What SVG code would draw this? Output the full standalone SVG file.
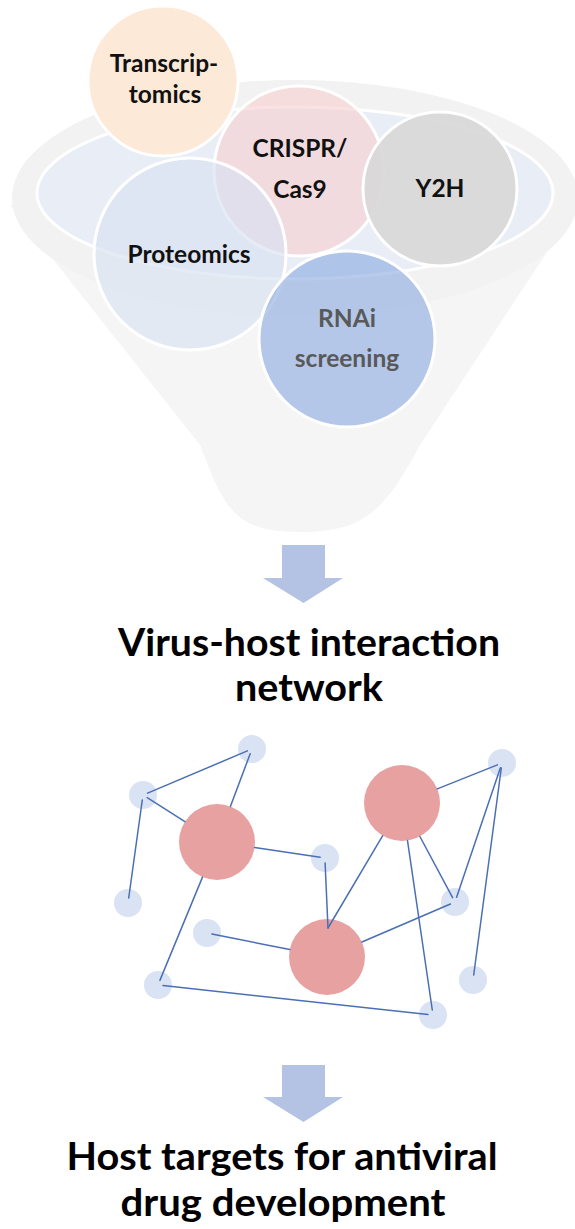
<svg xmlns="http://www.w3.org/2000/svg" width="575" height="1229" viewBox="0 0 575 1229">
<defs>
<style>
.lbl{font-family:Lato,"Liberation Sans",sans-serif;font-weight:700;font-size:24.5px;fill:#111;text-anchor:middle}
.ttl{font-family:Lato,"Liberation Sans",sans-serif;font-weight:700;font-size:38px;fill:#000;text-anchor:middle}
.m{stroke:#fff;stroke-width:3}
.sn{fill:#d9e3f4}
.rn{fill:#e8a1a1}
.edge{stroke:#4a6fb5;stroke-width:1.5;fill:none;stroke-linecap:round}
.arrow{fill:#b4c3e3}
</style>
</defs>
<rect width="575" height="1229" fill="#fff"/>
<g id="funnel">
<path d="M 10,205 L 200,445 C 225,510 235,532 300,532 C 365,532 385,510 420,445 L 578,205 Z" fill="#f5f5f5"/>
<ellipse cx="295" cy="198" rx="283" ry="118" fill="#f2f2f2"/>
<ellipse cx="295" cy="193" rx="258" ry="86" fill="#e8edf6" stroke="#fff" stroke-width="3"/>
</g>
<g id="node-transcriptomics">
<circle cx="163" cy="81" r="75" fill="#fde9d7" class="m"/>
<text class="lbl" x="164" y="72">Transcrip-</text>
<text class="lbl" x="165" y="103">tomics</text>
</g>
<g id="node-crispr">
<circle cx="299" cy="171" r="85" fill="#f7cfcf" fill-opacity="0.6" class="m"/>
<text class="lbl" x="300" y="157">CRISPR/</text>
<text class="lbl" x="300" y="198">Cas9</text>
</g>
<g id="node-y2h">
<circle cx="440" cy="189" r="77" fill="#d8d8d8" fill-opacity="0.92" class="m"/>
<text class="lbl" x="440" y="197">Y2H</text>
</g>
<g id="node-proteomics">
<circle cx="190" cy="254" r="96" fill="#d9e2f1" fill-opacity="0.65" class="m"/>
<text class="lbl" x="189" y="263">Proteomics</text>
</g>
<g id="node-rnai">
<circle cx="347" cy="339" r="88" fill="#8dabe0" fill-opacity="0.62" class="m"/>
<text class="lbl" x="347" y="327" style="fill:#595959">RNAi</text>
<text class="lbl" x="347" y="367" style="fill:#595959">screening</text>
</g>
<g id="arrow-1">
<polygon class="arrow" points="282,545 325,545 325,578 343,578 303.5,603 263,578 282,578"/>
</g>
<g id="title-network">
<text class="ttl" x="309" y="656" textLength="382" lengthAdjust="spacingAndGlyphs">Virus-host interaction</text>
<text class="ttl" x="309" y="701" textLength="148" lengthAdjust="spacingAndGlyphs">network</text>
</g>
<g id="network-nodes">
<circle id="n-a" class="sn" cx="252" cy="749" r="14"/>
<circle id="n-b" class="sn" cx="143" cy="795" r="14"/>
<circle id="n-c" class="sn" cx="128" cy="903" r="14"/>
<circle id="n-d" class="sn" cx="325" cy="858" r="14"/>
<circle id="n-e" class="sn" cx="207" cy="933" r="14"/>
<circle id="n-f" class="sn" cx="158" cy="985" r="14"/>
<circle id="n-g" class="sn" cx="433" cy="1015" r="14"/>
<circle id="n-h" class="sn" cx="455" cy="902" r="14"/>
<circle id="n-i" class="sn" cx="502" cy="763" r="14"/>
<circle id="n-j" class="sn" cx="473" cy="980" r="14"/>
<circle id="n-r1" class="rn" cx="217" cy="842" r="38"/>
<circle id="n-r2" class="rn" cx="402" cy="803" r="38"/>
<circle id="n-r3" class="rn" cx="327" cy="957" r="38"/>
</g>
<g id="connectors">
<line class="edge" x1="147.6" y1="793.1" x2="247.4" y2="750.9"/>
<line class="edge" x1="250.2" y1="753.7" x2="230.4" y2="806.4"/>
<line class="edge" x1="147.2" y1="797.7" x2="184.9" y2="821.6"/>
<line class="edge" x1="142.3" y1="800" x2="128.7" y2="898"/>
<line class="edge" x1="254.6" y1="847.6" x2="320.1" y2="857.3"/>
<line class="edge" x1="202.5" y1="877.1" x2="159.9" y2="980.4"/>
<line class="edge" x1="325.1" y1="863" x2="328" y2="928"/>
<line class="edge" x1="382.7" y1="835.7" x2="328" y2="928"/>
<line class="edge" x1="211.9" y1="934" x2="289.8" y2="949.6"/>
<line class="edge" x1="361.9" y1="942" x2="450.4" y2="904"/>
<line class="edge" x1="419.9" y1="836.5" x2="452.6" y2="897.6"/>
<line class="edge" x1="407.5" y1="840.6" x2="432.3" y2="1010"/>
<line class="edge" x1="437.3" y1="788.9" x2="497.4" y2="764.9"/>
<line class="edge" x1="500.4" y1="767.7" x2="456.6" y2="897.3"/>
<line class="edge" x1="501.3" y1="768" x2="473.7" y2="975"/>
<line class="edge" x1="163" y1="985.5" x2="428" y2="1014.5"/>
</g>
<g id="arrow-2">
<polygon class="arrow" points="282,1065 325,1065 325,1097 343,1097 303.5,1122 263,1097 282,1097"/>
</g>
<g id="title-targets">
<text class="ttl" x="282" y="1170" textLength="431" lengthAdjust="spacingAndGlyphs">Host targets for antiviral</text>
<text class="ttl" x="283" y="1216" textLength="325" lengthAdjust="spacingAndGlyphs">drug development</text>
</g>
</svg>
